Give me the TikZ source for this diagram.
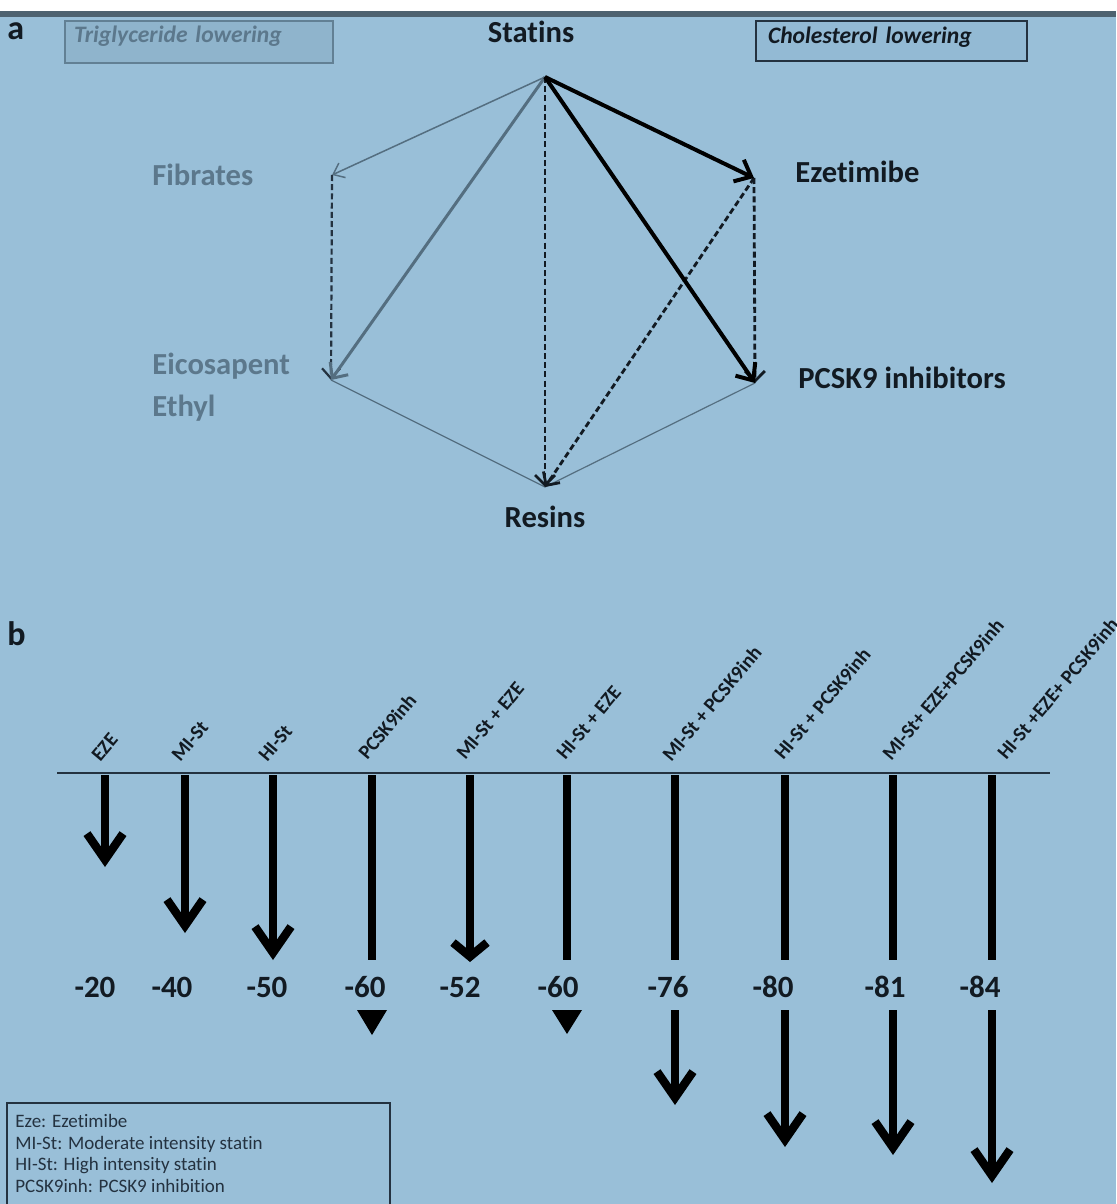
\documentclass[tikz,border=0pt]{standalone}
\usepackage{fontspec}
\setmainfont{Carlito}[Ligatures=NoCommon]
\usetikzlibrary{arrows.meta}
\definecolor{bgblue}{RGB}{153,191,216}
\definecolor{topband}{RGB}{78,98,112}
\definecolor{inkc}{RGB}{18,26,34}
\definecolor{graytext}{RGB}{92,120,140}
\definecolor{grayline}{RGB}{84,110,128}
\definecolor{tgfill}{RGB}{143,180,204}
\definecolor{tgborder}{RGB}{98,128,148}
\definecolor{chfill}{RGB}{147,186,212}
\definecolor{navy}{RGB}{36,50,64}
\tikzset{
  lbl/.style={inner sep=0pt, text=inkc, font=\bfseries\fontsize{15.3pt}{18pt}\selectfont},
  graylbl/.style={lbl, text=graytext},
  panel/.style={inner sep=0pt, text=inkc, anchor=base west, font=\bfseries\fontsize{17pt}{20pt}\selectfont},
  boxlbl/.style={line width=1pt, anchor=north west, align=left, inner ysep=0pt,
    font=\bfseries\itshape\fontsize{11.8pt}{14pt}\selectfont},
  thinedge/.style={draw=grayline, line width=0.6pt},
  grayarrow/.style={draw=grayline, line width=0.75pt, -{Straight Barb[length=5pt,width=8pt]}},
  grayarrowthick/.style={draw=grayline, line width=1.5pt, -{Straight Barb[length=6pt,width=11pt]}},
  dasharrow/.style={draw=inkc, line width=1.4pt, dash pattern=on 3pt off 1.6pt, -{Straight Barb[length=5pt,width=10pt]}},
  dashgray/.style={draw=navy, line width=1.1pt, dash pattern=on 3pt off 1.6pt, -{Straight Barb[length=5pt,width=9pt]}},
  boldarrow/.style={draw=black, line width=2pt, -{Straight Barb[length=7pt,width=12pt]}},
  axisline/.style={draw=navy, line width=1pt},
  drop/.style={draw=black, line width=4.2pt, -{Straight Barb[length=13pt,width=18pt]}},
  dropflat/.style={draw=black, line width=4.2pt, -{Straight Barb[length=7pt,width=17pt]}},
  stem/.style={draw=black, line width=4.2pt},
  rotlbl/.style={inner sep=0pt, anchor=base west, rotate=50, text=inkc, font=\bfseries\fontsize{10pt}{12pt}\selectfont},
  num/.style={inner sep=0pt, anchor=base, text=inkc, font=\bfseries\fontsize{15.5pt}{18pt}\selectfont},
  legtxt/.style={inner sep=0pt, anchor=base west, text=navy, font=\fontsize{9.5pt}{11pt}\selectfont},
}
\begin{document}
\begin{tikzpicture}[x=0.5pt,y=-0.5pt]
\useasboundingbox (0,0) rectangle (1116,1204);
\begin{scope}
\clip (0,0) rectangle (1116,1204);
\fill[white] (0,0) rectangle (1116,11);
\fill[topband] (0,11) rectangle (1116,17);
\fill[bgblue] (0,17) rectangle (1116,1204);

% ---------- panel a ----------
\node[panel] (pa) at (7,40) {a};
\node[boxlbl, draw=tgborder, fill=tgfill, text=graytext, text width=125pt, inner xsep=4.5pt,
      text height=11pt, text depth=10pt] (tg) at (64,20) {Triglyceride lowering};
\node[boxlbl, draw=navy, fill=chfill, text=inkc, text width=123.5pt, inner xsep=6pt,
      text height=11.5pt, text depth=8.5pt] (ch) at (755,20) {Cholesterol lowering};

\coordinate (S) at (545,77);
\coordinate (F) at (332,175);
\coordinate (Ez) at (754,178);
\coordinate (Ei) at (331,380);
\coordinate (P) at (755,383);
\coordinate (R) at (545,487);

\node[lbl, anchor=base] (statins) at (531,43) {Statins};
\node[graylbl, anchor=base west] (fibrates) at (152,185) {Fibrates};
\node[graylbl, anchor=base west] (eico) at (152,374) {Eicosapent};
\node[graylbl, anchor=base west] (ethyl) at (152,416) {Ethyl};
\node[lbl, anchor=base west] (ezet) at (795,183) {Ezetimibe};
\node[lbl, anchor=base west] (pcsk) at (798,388) {PCSK9 inhibitors};
\node[lbl, anchor=base] (resins) at (545,527) {Resins};

\draw[thinedge] (Ei) -- (R);
\draw[thinedge] (P) -- (R);
\draw[grayarrow] (S) -- (F);
\draw[dashgray] (F) -- (Ei);
\draw[grayarrowthick] (S) -- (Ei);
\draw[dasharrow] (S) -- (R);
\draw[dasharrow] (Ez) -- (R);
\draw[dasharrow] (Ez) -- (P);
\draw[boldarrow] (S) -- (Ez);
\draw[boldarrow] (S) -- (P);

% ---------- panel b ----------
\node[panel] (pb) at (7,645) {b};
\coordinate (axL) at (57,773);
\coordinate (axR) at (1050,773);
\draw[axisline] (axL) -- (axR);

\node[rotlbl] (l1) at (100,763) {EZE};
\node[rotlbl] (l2) at (180,763) {MI-St};
\node[rotlbl] (l3) at (267,763) {HI-St};
\node[rotlbl] (l4) at (367,761) {PCSK9inh};
\node[rotlbl] (l5) at (465,761) {MI-St + EZE};
\node[rotlbl] (l6) at (565,761) {HI-St + EZE};
\node[rotlbl] (l7) at (671,763) {MI-St + PCSK9inh};
\node[rotlbl] (l8) at (783,761) {HI-St + PCSK9inh};
\node[rotlbl] (l9) at (891,762) {MI-St+ EZE+PCSK9inh};
\node[rotlbl] (l10) at (1006,761) {HI-St +EZE+ PCSK9inh};

\foreach \i/\x in {1/105,2/185,3/273,4/372,5/470,6/567,7/675,8/785,9/893,10/992}
  \coordinate (t\i) at (\x,775);
\coordinate (e1) at (105,867);
\coordinate (e2) at (185,933);
\coordinate (e3) at (273,960);
\coordinate (e4) at (372,960);
\coordinate (e5) at (470,962);
\coordinate (e6) at (567,960);
\coordinate (e7) at (675,960);
\coordinate (e8) at (785,960);
\coordinate (e9) at (893,960);
\coordinate (e10) at (992,960);

\draw[drop] (t1) -- (e1);
\draw[drop] (t2) -- (e2);
\draw[drop] (t3) -- (e3);
\draw[stem] (t4) -- (e4);
\draw[dropflat] (t5) -- (e5);
\draw[stem] (t6) -- (e6);
\draw[stem] (t7) -- (e7);
\draw[stem] (t8) -- (e8);
\draw[stem] (t9) -- (e9);
\draw[stem] (t10) -- (e10);

\node[num] (n1) at (95,997) {-20};
\node[num] (n2) at (172,997) {-40};
\node[num] (n3) at (267,997) {-50};
\node[num] (n4) at (365,997) {-60};
\node[num] (n5) at (460,997) {-52};
\node[num] (n6) at (558,997) {-60};
\node[num] (n7) at (668,997) {-76};
\node[num] (n8) at (773,997) {-80};
\node[num] (n9) at (885,997) {-81};
\node[num] (n10) at (980,997) {-84};

\fill[black] (357,1010) -- (387,1010) -- (372,1035) -- cycle;
\fill[black] (552,1010) -- (582,1010) -- (567,1034) -- cycle;

\coordinate (s7) at (675,1010);
\coordinate (s8) at (785,1010);
\coordinate (s9) at (893,1010);
\coordinate (s10) at (992,1010);
\coordinate (f7) at (675,1105);
\coordinate (f8) at (785,1147);
\coordinate (f9) at (893,1155);
\coordinate (f10) at (992,1183);
\draw[drop] (s7) -- (f7);
\draw[drop] (s8) -- (f8);
\draw[drop] (s9) -- (f9);
\draw[drop] (s10) -- (f10);

% legend
\draw[draw=navy, line width=1pt] (7,1103) rectangle (390,1215);
\node[legtxt] (leg1) at (15,1127) {Eze: Ezetimibe};
\node[legtxt] (leg2) at (15,1149) {MI-St: Moderate intensity statin};
\node[legtxt] (leg3) at (15,1170) {HI-St: High intensity statin};
\node[legtxt] (leg4) at (15,1192) {PCSK9inh: PCSK9 inhibition};
\end{scope}
\end{tikzpicture}
\end{document}
